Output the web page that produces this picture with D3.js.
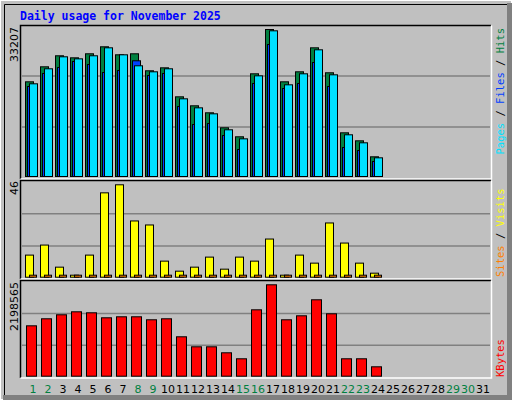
<!DOCTYPE html>
<html><head><meta charset="utf-8">
<script src="https://cdn.jsdelivr.net/npm/d3@7/dist/d3.min.js"></script>
<style>body{margin:0;background:#fff}svg{display:block}</style>
</head><body>
<script>
const days = d3.range(1, 32);
const weekendDays = [1,2,8,9,15,16,22,23,29,30];
const hits  = [21390,24780,27270,26810,27720,29300,27490,27720,23880,24550,18000,15970,14390,11000,8970,23200,33207,21390,23650,29070,23430,9870,8060,4450];
const files = [20940,24330,27040,26580,27270,29070,27490,25010,23650,24330,17550,15510,14160,10550,8510,22740,32910,20710,23200,28620,22970,9420,7610,4220];
const pages = [20330,23270,24620,25980,25300,23490,23950,26140,22820,23270,15810,11750,11970,9260,6100,21010,29820,19880,21010,25750,20330,6550,5870,3390];
const visits = [11,16,5,1,11,42,46,28,26,8,3,5,10,4,10,8,19,1,11,7,27,17,7,2];
const sites  = [1,1,1,1,1,1,1,1,1,1,1,1,1,1,1,1,1,1,1,1,1,1,1,1];
const kbytes = [1212000,1381000,1477000,1549000,1525000,1405000,1429000,1429000,1357000,1381000,948000,707000,707000,563000,419000,1597000,2198565,1357000,1453000,1838000,1501000,419000,419000,226000];
const maxHits = 33207, maxVisits = 46, maxKB = 2198565;

const W=512,H=400;
const svg=d3.select("body").append("svg").attr("width",W).attr("height",H);
svg.append("rect").attr("width",W).attr("height",H).attr("fill","#c0c0c0");
// outer bevel
svg.append("rect").attr("x",0).attr("y",0).attr("width",W).attr("height",H).attr("fill","none").attr("stroke","#fff").attr("stroke-width",2);
svg.append("rect").attr("x",W-5).attr("y",3).attr("width",5).attr("height",H-3).attr("fill","#808080");
svg.append("rect").attr("x",3).attr("y",H-5).attr("width",W-3).attr("height",5).attr("fill","#808080");
svg.append("path").attr("d",`M4.5,${H-5}V4.5H${W-5}`).attr("fill","none").attr("stroke","#000");

svg.append("text").attr("x",20).attr("y",20).attr("fill","#0000ff")
  .attr("font-family","DejaVu Sans Mono").attr("font-weight","bold").attr("font-size","11.5px")
  .text("Daily usage for November 2025");

const x = d3.scaleLinear().domain([1,32]).range([25,490]);

const panels=[
  {top:25,bot:179,base:176,h:147,max:maxHits},
  {top:180,bot:279,base:276.7,h:92.4,max:maxVisits},
  {top:280,bot:378,base:375.7,h:91.4,max:maxKB}
];
panels.forEach(p=>{
  p.y=d3.scaleLinear().domain([0,p.max]).range([p.base,p.base-p.h]);
  svg.append("path").attr("d",`M20.5,${p.bot}V${p.top+0.5}H491`).attr("fill","none").attr("stroke","#000").attr("stroke-width",1.5);
  svg.append("path").attr("d",`M20.5,${p.bot}H491.5V${p.top+0.5}`).attr("fill","none").attr("stroke","#fff").attr("stroke-width",1.5);
  [0.333,0.68].forEach(f=>{
    svg.append("line").attr("x1",22).attr("x2",490).attr("y1",p.y(p.max*f)).attr("y2",p.y(p.max*f))
      .attr("stroke","#808080").attr("stroke-width",1.5);
  });
});

function bars(data,p,dx,w,color){
  svg.append("g").selectAll("rect").data(data).join("rect")
    .attr("x",(d,i)=>x(i+1)+dx+0.5).attr("width",w)
    .attr("y",d=>p.y(d)+0.5).attr("height",d=>p.base-p.y(d))
    .attr("fill",color).attr("stroke","#000").attr("stroke-width",1);
}
bars(hits,panels[0],0,8,"#008040");
bars(pages,panels[0],2,8,"#0040ff");
bars(files,panels[0],4,8,"#00e0ff");
bars(visits,panels[1],0,8,"#ffff00");
bars(sites,panels[1],4,7,"#ff8000");
bars(kbytes,panels[2],1,10,"#ff0000");

// left max labels
[["33207",14,27],["46",14,181],["2198565",14,282]].forEach(([t,xx,yy])=>{
  svg.append("text").attr("transform",`translate(${xx+4},${yy}) rotate(-90)`).attr("text-anchor","end")
    .attr("font-family","DejaVu Sans").attr("font-size","11px").attr("fill","#000").text(t);
});

// right legends
function legend(parts,yy,anchor){
  const t=svg.append("text").attr("transform",`translate(504,${yy}) rotate(-90)`).attr("text-anchor",anchor)
    .attr("font-family","DejaVu Sans Mono").attr("font-size","10.5px");
  parts.forEach(([s,c])=>t.append("tspan").attr("fill",c).text(s));
}
legend([["Pages","#00e0ff"],[" / ","#000"],["Files","#0040ff"],[" / ","#000"],["Hits","#008040"]],28,"end");
legend([["Sites","#ff8000"],[" / ","#000"],["Visits","#ffff00"]],277,"start");
legend([["KBytes","#ff0000"]],377,"start");

svg.append("g").selectAll("text").data(days).join("text")
  .attr("x",d=>x(d)+8).attr("y",393).attr("text-anchor","middle")
  .attr("font-family","DejaVu Sans").attr("font-size","11px")
  .attr("fill",d=>weekendDays.includes(d)?"#008040":"#000").text(d=>d);
</script>
</body></html>
